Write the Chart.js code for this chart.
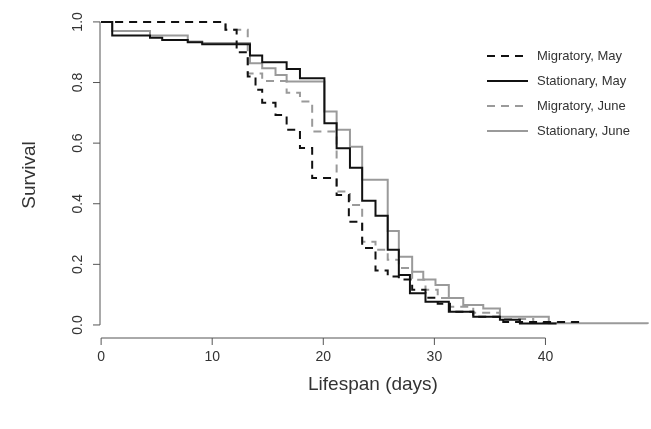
<!DOCTYPE html>
<html>
<head>
<meta charset="utf-8">
<script src="https://cdn.jsdelivr.net/npm/chart.js@4/dist/chart.umd.min.js"></script>
<style>
  html, body { margin: 0; padding: 0; background: #fff; }
  #wrap { width: 651px; height: 429px; }
</style>
</head>
<body>
<div id="wrap"><canvas id="myChart"></canvas></div>
<script>
// Kaplan-Meier кроки: день початку кроку і значення виживання
var migMayDays = [0, 11.2, 12.2, 13.2, 13.9, 14.5, 15.7, 16.7, 17.9, 19.0, 21.2, 22.3, 23.5, 24.7, 25.8, 26.8, 28.0, 29.2, 30.3, 31.4, 33.5, 36.2, 43.4];
var migMayVals = [1.0, 0.974, 0.90, 0.82, 0.776, 0.733, 0.693, 0.644, 0.584, 0.485, 0.429, 0.341, 0.254, 0.18, 0.16, 0.15, 0.116, 0.09, 0.07, 0.044, 0.027, 0.01, 0.005];

var statMayDays = [0, 1.0, 4.4, 5.5, 7.8, 9.1, 13.4, 14.5, 16.7, 17.9, 20.1, 21.2, 22.4, 23.5, 24.7, 25.8, 26.8, 27.8, 29.2, 31.3, 33.5, 35.9, 37.7, 41.0];
var statMayVals = [1.0, 0.955, 0.948, 0.94, 0.933, 0.926, 0.889, 0.867, 0.845, 0.814, 0.666, 0.583, 0.519, 0.41, 0.36, 0.248, 0.165, 0.105, 0.077, 0.044, 0.027, 0.017, 0.005, 0.005];

var migJunDays = [0, 11.2, 13.2, 14.5, 16.7, 17.9, 19.0, 21.2, 22.4, 23.5, 24.7, 25.8, 26.8, 28.0, 29.2, 30.3, 31.4, 33.5, 35.9, 38.9, 43.4];
var migJunVals = [1.0, 0.974, 0.83, 0.805, 0.766, 0.737, 0.638, 0.44, 0.396, 0.275, 0.248, 0.215, 0.188, 0.149, 0.116, 0.089, 0.06, 0.04, 0.02, 0.007, 0.005];

var statJunDays = [0, 1.0, 4.4, 7.8, 9.1, 13.4, 14.5, 15.7, 16.7, 20.1, 21.2, 22.4, 23.5, 25.8, 26.8, 28.0, 29.0, 30.1, 31.3, 32.6, 34.4, 35.9, 40.3, 49.2];
var statJunVals = [1.0, 0.97, 0.955, 0.935, 0.93, 0.864, 0.847, 0.825, 0.803, 0.704, 0.644, 0.588, 0.479, 0.31, 0.225, 0.176, 0.15, 0.132, 0.089, 0.066, 0.054, 0.027, 0.006, 0.003];

var xTicks = [0, 10, 20, 30, 40];
var yTicks = [0.0, 0.2, 0.4, 0.6, 0.8, 1.0];
var legendLabels = ['Migratory, May', 'Stationary, May', 'Migratory, June', 'Stationary, June'];

var black = '#111111';
var grey = '#9a9a9a';
var dash = [8, 6];

function toPoints(days, vals) {
    return days.map(function (d, i) { return { x: d, y: vals[i] }; });
}

function makeSet(label, days, vals, color, dashed) {
    return {
        label: label,
        data: toPoints(days, vals),
        borderColor: color,
        borderWidth: 2,
        borderDash: dashed ? dash : [],
        stepped: 'before',
        pointRadius: 0,
        fill: false
    };
}

// Осі, підписи і легенда в стилі R
var rAxes = {
    id: 'rAxes',
    afterDraw: function (chart) {
        var ctx = chart.ctx;
        var xs = chart.scales.x, ys = chart.scales.y;
        var axisY = ys.getPixelForValue(-0.043);
        var axisX = xs.getPixelForValue(-0.1);
        ctx.save();
        ctx.strokeStyle = '#555';
        ctx.lineWidth = 1;
        ctx.fillStyle = '#333';
        ctx.font = '14px "Liberation Sans", Arial, sans-serif';

        // вісь X
        ctx.beginPath();
        ctx.moveTo(xs.getPixelForValue(0), axisY);
        ctx.lineTo(xs.getPixelForValue(40), axisY);
        xTicks.forEach(function (t) {
            var px = xs.getPixelForValue(t);
            ctx.moveTo(px, axisY);
            ctx.lineTo(px, axisY + 7);
        });
        ctx.stroke();
        ctx.textAlign = 'center';
        ctx.textBaseline = 'top';
        xTicks.forEach(function (t) {
            ctx.fillText(String(t), xs.getPixelForValue(t), axisY + 12);
        });

        // вісь Y
        ctx.beginPath();
        ctx.moveTo(axisX, ys.getPixelForValue(0));
        ctx.lineTo(axisX, ys.getPixelForValue(1));
        yTicks.forEach(function (t) {
            var py = ys.getPixelForValue(t);
            ctx.moveTo(axisX, py);
            ctx.lineTo(axisX - 7, py);
        });
        ctx.stroke();
        yTicks.forEach(function (t) {
            ctx.save();
            ctx.translate(axisX - 22, ys.getPixelForValue(t));
            ctx.rotate(-Math.PI / 2);
            ctx.textAlign = 'center';
            ctx.textBaseline = 'middle';
            ctx.fillText(t.toFixed(1), 0, 0);
            ctx.restore();
        });

        // назви осей
        ctx.font = '19px "Liberation Sans", Arial, sans-serif';
        ctx.textAlign = 'center';
        ctx.textBaseline = 'middle';
        ctx.fillText('Lifespan (days)', 373, 385);
        ctx.save();
        ctx.translate(30, 175);
        ctx.rotate(-Math.PI / 2);
        ctx.fillText('Survival', 0, 0);
        ctx.restore();

        // легенда
        ctx.font = '13px "Liberation Sans", Arial, sans-serif';
        ctx.textAlign = 'left';
        chart.data.datasets.forEach(function (ds, i) {
            var ly = 56 + i * 25;
            ctx.beginPath();
            ctx.strokeStyle = ds.borderColor;
            ctx.lineWidth = 2;
            ctx.setLineDash(ds.borderDash);
            ctx.moveTo(487, ly);
            ctx.lineTo(528, ly);
            ctx.stroke();
            ctx.setLineDash([]);
            ctx.fillStyle = '#333';
            ctx.fillText(legendLabels[i], 537, ly);
        });
        ctx.restore();
    }
};

var ctx = document.getElementById('myChart').getContext('2d');
var myChart = new Chart(ctx, {
    type: 'line',
    data: {
        datasets: [
            makeSet(legendLabels[0], migMayDays, migMayVals, black, true),
            makeSet(legendLabels[1], statMayDays, statMayVals, black, false),
            makeSet(legendLabels[2], migJunDays, migJunVals, grey, true),
            makeSet(legendLabels[3], statJunDays, statJunVals, grey, false)
        ]
    },
    options: {
        responsive: true,
        maintainAspectRatio: false,
        animation: false,
        layout: { padding: { left: 100, right: 0, top: 21, bottom: 91 } },
        plugins: { legend: { display: false }, tooltip: { enabled: false } },
        scales: {
            x: { type: 'linear', min: -0.1, max: 49.5, display: false },
            y: { type: 'linear', min: -0.043, max: 1.003, display: false }
        }
    },
    plugins: [rAxes]
});
</script>
</body>
</html>
